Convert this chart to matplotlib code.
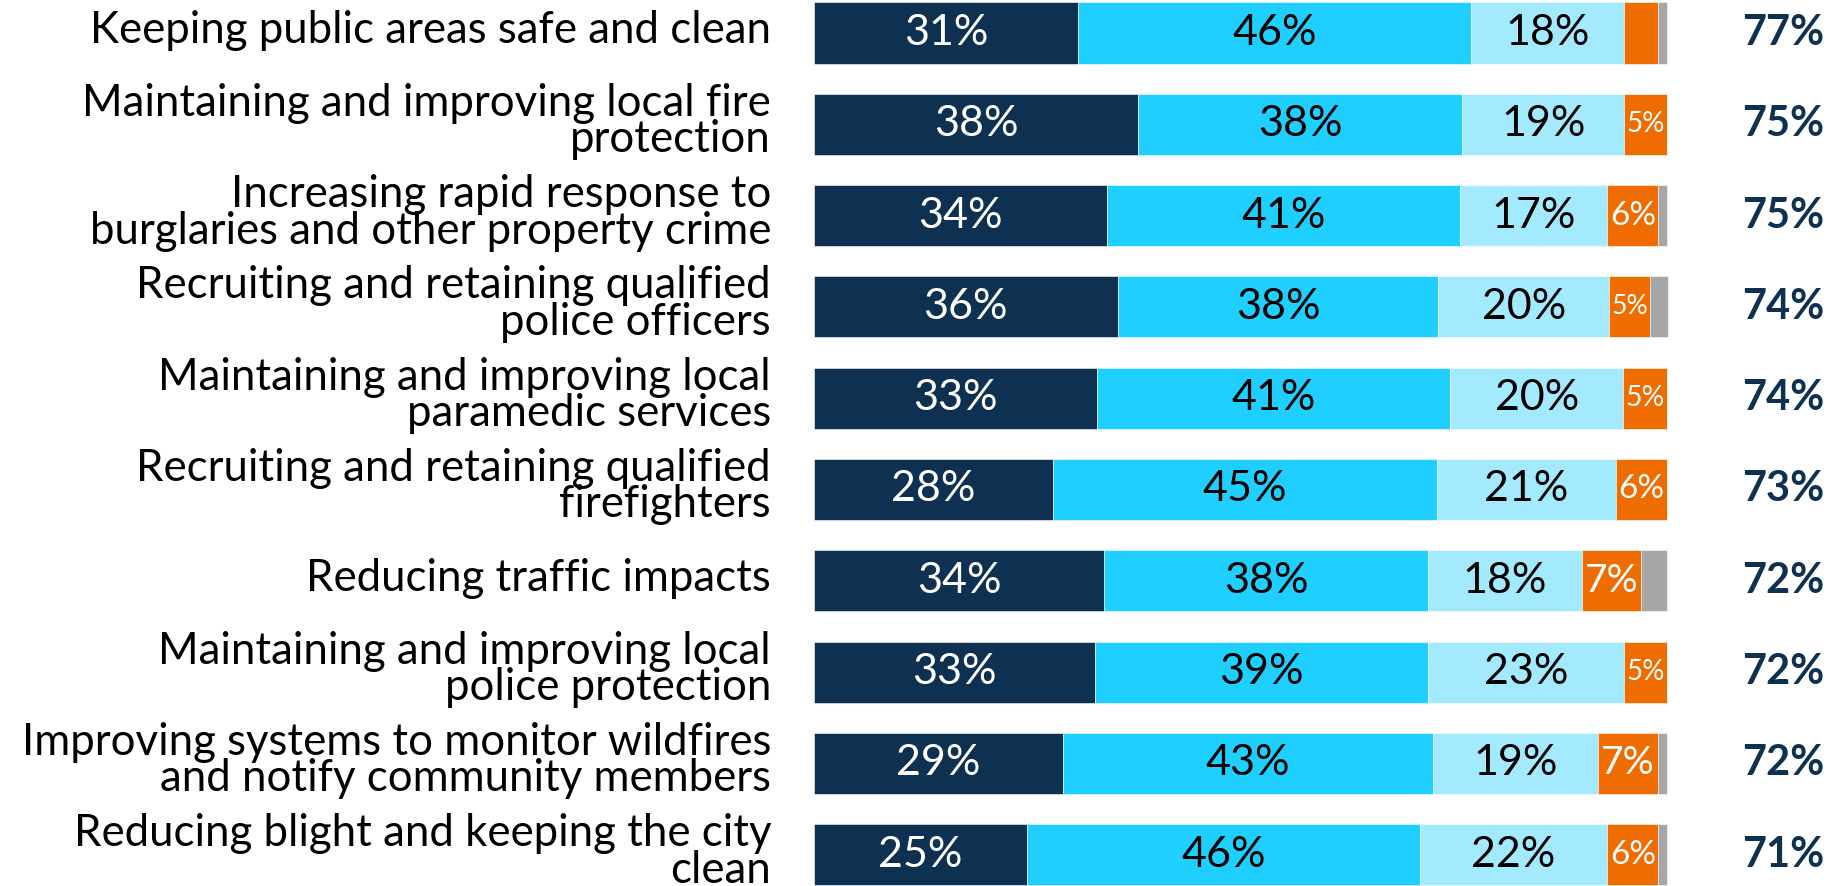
import matplotlib
matplotlib.use("Agg")
import matplotlib.pyplot as plt

plt.rcParams["font.family"] = ["Lato", "DejaVu Sans"]

labels = [
    "Keeping public areas safe and clean",
    "Maintaining and improving local fire\nprotection",
    "Increasing rapid response to\nburglaries and other property crime",
    "Recruiting and retaining qualified\npolice officers",
    "Maintaining and improving local\nparamedic services",
    "Recruiting and retaining qualified\nfirefighters",
    "Reducing traffic impacts",
    "Maintaining and improving local\npolice protection",
    "Improving systems to monitor wildfires\nand notify community members",
    "Reducing blight and keeping the city\nclean",
]
very = [31, 38, 34.3, 35.6, 33.2, 28, 34, 33, 29.2, 25]
somewhat = [46, 38, 41.4, 37.6, 41.4, 45, 38, 39, 43.4, 46]
lean = [18, 19, 17.3, 20, 20.3, 21, 18, 23, 19.3, 22]
oppose = [4, 5, 6, 4.8, 5.1, 6, 7, 5, 7, 6]
unsure = [1, 0, 1, 2.1, 0, 0, 3, 0, 1.1, 1]
totals = [77, 75, 75, 74, 74, 73, 72, 72, 72, 71]

NAVY = "#0f3151"
series = [
    (very, NAVY, "white"),
    (somewhat, "#1ecfff", "black"),
    (lean, "#a3eafe", "black"),
    (oppose, "#ef6c00", "white"),
    (unsure, "#a6a6a6", None),
]

W, H = 1845, 886
fig = plt.figure(figsize=(W / 100, H / 100), dpi=100)
x0, x100 = 814, 1667
pxper = (x100 - x0) / 100.0
ax = fig.add_axes([x0 / W, 0, (W - x0) / W, 1])
ax.set_xlim(0, (W - x0) / pxper)
pitch, c0 = 91.3, 33
ax.set_ylim((H - c0) / pitch, -c0 / pitch)
ax.axis("off")

ypos = list(range(len(labels)))
left = [0.0] * len(labels)
seglabels = []
for vals, col, tcol in series:
    ax.barh(ypos, vals, left=left, height=0.67, color=col,
            edgecolor="white", linewidth=0.4)
    for i, v in enumerate(vals):
        if tcol is not None and v >= 4.5:
            t = ax.text(left[i] + v / 2.0, i, "{:.0f}%".format(v),
                        ha="center", va="center", color=tcol, fontsize=31)
            seglabels.append((t, v))
    left = [l + v for l, v in zip(left, vals)]

# shrink labels that don't fit their segment
fig.canvas.draw()
r = fig.canvas.get_renderer()
for t, v in seglabels:
    bw = t.get_window_extent(r).width
    segw = v * pxper
    if bw > 0.9 * segw:
        t.set_fontsize(t.get_fontsize() * 0.9 * segw / bw)

for i, lab in enumerate(labels):
    ax.text(-43 / pxper, i - 0.03, lab, ha="right", va="center",
            fontsize=31.5, color="black", linespacing=0.86)
    ax.text((1824 - x0) / pxper, i, "{}%".format(totals[i]), ha="right",
            va="center", fontsize=30, fontweight="bold", color=NAVY)

fig.savefig("out.png", dpi=100)
